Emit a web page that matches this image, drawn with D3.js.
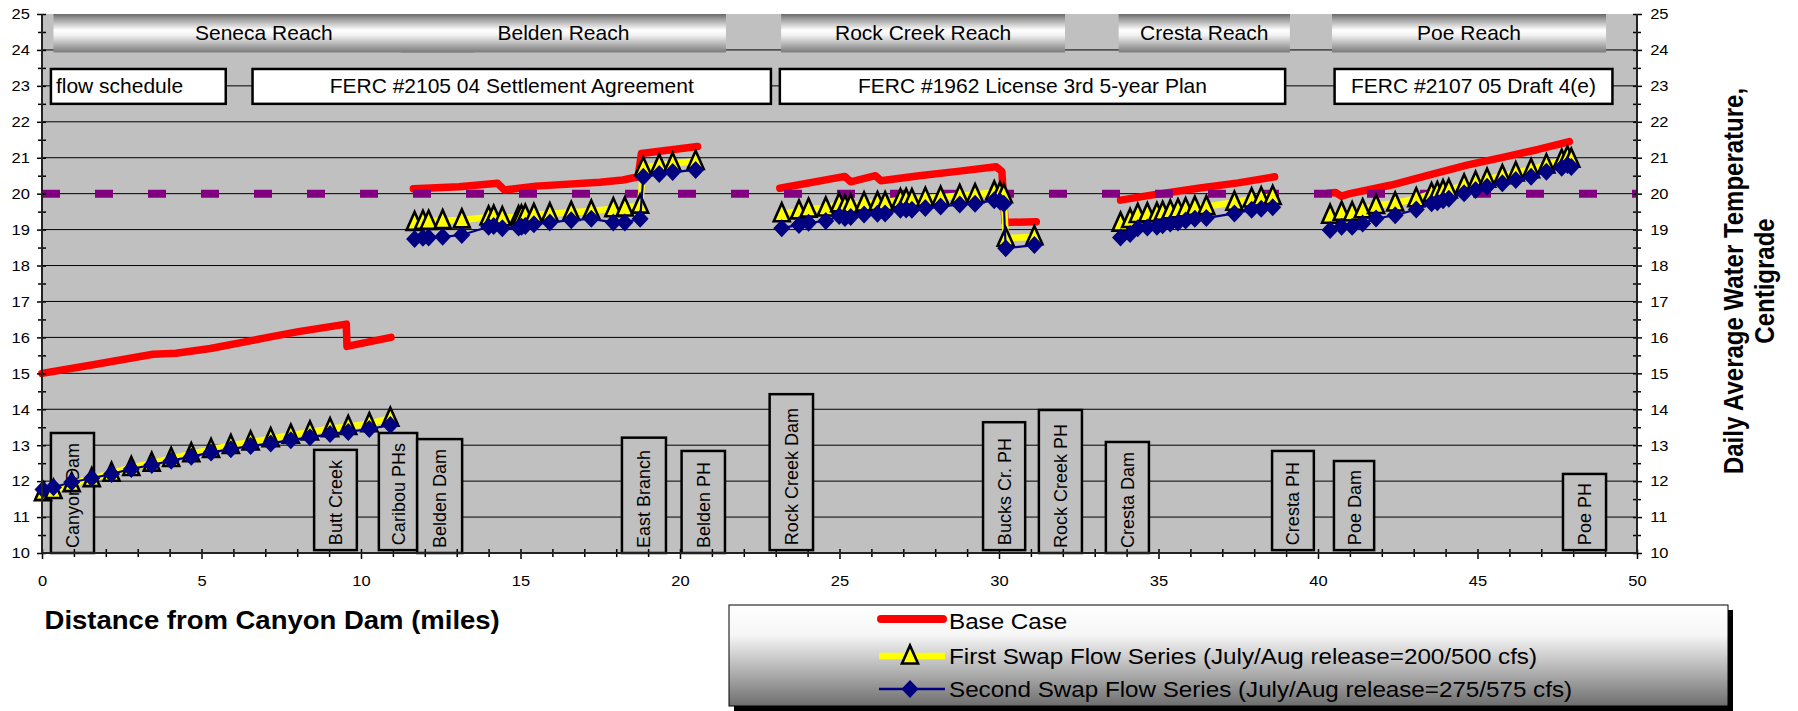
<!DOCTYPE html>
<html><head><meta charset="utf-8">
<script src="https://cdn.jsdelivr.net/npm/d3@7"></script>
<style>
body{margin:0;background:#fff}
svg{display:block}
text{font-family:"Liberation Sans",Arial,sans-serif;fill:#000}
</style>
</head><body>
<svg id="c" width="1798" height="711"></svg>
<script>
// ---------------- DATA ----------------
const xDomain = [0, 50];
const yDomain = [10, 25];
const xTickLabels = [0, 5, 10, 15, 20, 25, 30, 35, 40, 45, 50];
const yTickLabels = [10, 11, 12, 13, 14, 15, 16, 17, 18, 19, 20, 21, 22, 23, 24, 25];
const gridValues = [11, 12, 13, 14, 15, 16, 17, 18, 19, 20, 21, 22, 23, 24];

const seriesNames = ["Base Case",
  "First Swap Flow Series (July/Aug release=200/500 cfs)",
  "Second Swap Flow Series (July/Aug release=275/575 cfs)"];

// [mile, temperature C]; null = gap between reaches
const baseCase = [
  [0,15.0],[1.56,15.23],[3.48,15.53],[4.2,15.56],[5.28,15.69],[7.08,16.0],[8.04,16.16],[9.54,16.37],[9.56,15.75],[10.94,16.0],
  null,
  [11.64,20.14],[13.08,20.19],[14.28,20.29],[14.5,20.1],[15.48,20.21],[17.49,20.32],[18.21,20.38],[18.69,20.47],[18.79,21.12],[20.55,21.31],
  null,
  [23.13,20.15],[25.17,20.48],[25.35,20.33],[26.13,20.5],[26.3,20.36],[27.5,20.5],[28.7,20.62],[29.91,20.75],[30.09,20.62],[30.19,19.2],[31.17,19.22],
  null,
  [33.81,19.82],[34.77,19.96],[36.3,20.16],[37.5,20.3],[38.64,20.47],
  null,
  [40.32,20.01],[40.55,20.03],[40.74,19.93],[41.0,20.0],[42.3,20.24],[43.5,20.52],[44.7,20.8],[45.9,21.03],[46.9,21.23],[47.88,21.45]
];

const firstSwap = [
  [0.03,11.68],[0.36,11.74],[0.93,11.93],[1.56,12.07],[2.18,12.22],[2.8,12.38],[3.44,12.5],[4.05,12.63],[4.68,12.76],[5.3,12.88],
  [5.92,12.99],[6.54,13.09],[7.17,13.18],[7.8,13.28],[8.4,13.37],[9.03,13.46],[9.6,13.52],[10.26,13.6],[10.92,13.75],
  null,
  [11.68,19.2],[11.94,19.23],[12.12,19.23],[12.56,19.25],[13.16,19.27],[14.0,19.35],[14.16,19.37],[14.43,19.33],[14.94,19.36],[15.03,19.38],
  [15.15,19.4],[15.42,19.42],[15.92,19.44],[16.59,19.48],[17.22,19.52],[17.91,19.58],[18.27,19.6],[18.75,19.68],
  [18.85,20.72],[19.35,20.8],[19.77,20.84],[20.49,20.9],
  null,
  [23.19,19.44],[23.73,19.52],[24.03,19.57],[24.57,19.6],[24.99,19.72],[25.17,19.66],[25.35,19.68],[25.77,19.74],[26.19,19.75],[26.43,19.75],
  [26.91,19.83],[27.09,19.84],[27.27,19.83],[27.69,19.87],[28.17,19.9],[28.77,19.95],[29.25,19.97],[29.85,20.05],[30.03,20.02],[30.15,19.97],
  [30.21,18.76],[31.11,18.8],
  null,
  [33.81,19.18],[34.11,19.28],[34.35,19.42],[34.65,19.44],[34.95,19.45],[35.13,19.48],[35.37,19.52],[35.61,19.55],[35.85,19.58],[36.14,19.62],
  [36.5,19.64],[37.38,19.76],[37.92,19.85],[38.22,19.88],[38.58,19.92],
  null,
  [40.38,19.4],[40.74,19.48],[41.07,19.47],[41.4,19.55],[41.82,19.67],[42.42,19.74],[43.08,19.86],[43.56,20.0],[43.74,20.03],[43.92,20.08],
  [44.1,20.1],[44.58,20.24],[44.94,20.32],[45.3,20.4],[45.78,20.5],[46.2,20.58],[46.68,20.67],[47.16,20.8],[47.64,20.93],[47.82,21.02],[47.94,20.96]
];

const secondSwap = [
  [0.03,11.77],[0.36,11.83],[0.93,11.97],[1.56,12.08],[2.18,12.2],[2.8,12.34],[3.44,12.45],[4.05,12.57],[4.68,12.68],[5.3,12.8],
  [5.92,12.89],[6.54,12.98],[7.17,13.05],[7.8,13.14],[8.4,13.22],[9.03,13.31],[9.6,13.37],[10.26,13.45],[10.92,13.56],
  null,
  [11.68,18.74],[11.94,18.77],[12.12,18.78],[12.56,18.8],[13.16,18.85],[14.0,19.08],[14.16,19.1],[14.43,19.04],[14.94,19.06],[15.03,19.08],
  [15.15,19.1],[15.42,19.15],[15.92,19.2],[16.59,19.26],[17.22,19.3],[17.91,19.2],[18.27,19.2],[18.75,19.3],
  [18.85,20.47],[19.35,20.55],[19.77,20.6],[20.49,20.66],
  null,
  [23.19,19.04],[23.73,19.13],[24.03,19.19],[24.57,19.24],[24.99,19.38],[25.17,19.32],[25.35,19.35],[25.77,19.42],[26.19,19.44],[26.43,19.45],
  [26.91,19.55],[27.09,19.56],[27.27,19.55],[27.69,19.6],[28.17,19.64],[28.77,19.7],[29.25,19.72],[29.85,19.82],[30.03,19.78],[30.15,19.72],
  [30.21,18.48],[31.11,18.57],
  null,
  [33.81,18.78],[34.11,18.88],[34.35,19.04],[34.65,19.06],[34.95,19.08],[35.13,19.12],[35.37,19.17],[35.61,19.2],[35.85,19.25],[36.14,19.3],
  [36.5,19.32],[37.38,19.45],[37.92,19.55],[38.22,19.58],[38.58,19.62],
  null,
  [40.38,18.99],[40.74,19.08],[41.07,19.08],[41.4,19.17],[41.82,19.31],[42.42,19.4],[43.08,19.56],[43.56,19.73],[43.74,19.76],[43.92,19.82],
  [44.1,19.86],[44.58,20.01],[44.94,20.1],[45.3,20.19],[45.78,20.29],[46.2,20.38],[46.68,20.47],[47.16,20.61],[47.64,20.72],[47.82,20.8],[47.94,20.74]
];

const threshold = [[0,20],[50,20]];

// annotation boxes in data units (miles / degrees)
const reachNames = ["Seneca Reach","Belden Reach","Rock Creek Reach","Cresta Reach","Poe Reach"];
const reachFrom  = [0.36, 11.25, 23.17, 33.75, 40.44];
const reachTo    = [13.55, 21.44, 32.07, 39.12, 49.03];
const reachTemp  = [25, 23.93];

const flowNames = ["flow schedule","FERC #2105 04 Settlement Agreement","FERC #1962 License 3rd 5-year Plan","FERC #2107 05 Draft 4(e)"];
const flowFrom  = [0.28, 6.6, 23.13, 40.52];
const flowTo    = [5.76, 22.85, 38.97, 49.23];
const flowTemp  = [23.47, 22.5];

const siteNames  = ["Canyon Dam","Butt Creek","Caribou PHs","Belden Dam","East Branch","Belden PH","Rock Creek Dam",
                    "Bucks Cr. PH","Rock Creek PH","Cresta Dam","Cresta PH","Poe Dam","Poe PH"];
const siteFrom   = [0.28, 8.53, 10.56, 11.76, 18.18, 20.05, 22.81, 29.5, 31.25, 33.35, 38.56, 40.5, 47.68];
const siteTo     = [1.63, 9.87, 11.76, 13.17, 19.56, 21.41, 24.17, 30.82, 32.6, 34.7, 39.87, 41.76, 49.03];
const siteTop    = [13.34, 12.87, 13.34, 13.17, 13.21, 12.84, 14.42, 13.64, 13.98, 13.09, 12.84, 12.56, 12.2];
const siteBottom = [10, 10.08, 10.08, 10, 10, 10, 10.08, 10.08, 10, 10, 10.08, 10.08, 10.08];

const xTitle = "Distance from Canyon Dam (miles)";
const yTitle = ["Daily Average Water Temperature,", "Centigrade"];

// ---------------- DRAW ----------------
const FONT = '"Liberation Sans", Arial, sans-serif';
const svg = d3.select("#c");
const x = d3.scaleLinear().domain(xDomain).range([42, 1637]);
const y = d3.scaleLinear().domain(yDomain).range([553, 14]);

const defs = svg.append("defs");
const hg = defs.append("linearGradient").attr("id","hdr").attr("x1",0).attr("y1",0).attr("x2",0).attr("y2",1);
[[0,"#6a6a6a"],[0.12,"#999999"],[0.42,"#ffffff"],[0.55,"#f2f2f2"],[1,"#7a7a7a"]]
  .forEach(([o,c]) => hg.append("stop").attr("offset",o).attr("stop-color",c));
const lgr = defs.append("linearGradient").attr("id","leg").attr("x1",0).attr("y1",0).attr("x2",0).attr("y2",1);
[[0,"#ffffff"],[0.3,"#f6f6f6"],[1,"#6e6e6e"]]
  .forEach(([o,c]) => lgr.append("stop").attr("offset",o).attr("stop-color",c));

function label(g, px, py, str, o) {
  o = o || {};
  return g.append("text")
    .attr("transform", `translate(${px},${py}) scale(${o.sx||1},1) rotate(${o.rot||0})`)
    .attr("text-anchor", o.anchor || "start")
    .attr("font-size", o.size || 15)
    .attr("font-weight", o.weight || "normal")
    .attr("font-family", FONT)
    .text(str);
}

// plot background
svg.append("rect").attr("x", x(0)).attr("y", y(25)).attr("width", x(50)-x(0)).attr("height", y(10)-y(25)).attr("fill","#c0c0c0");

// gridlines
svg.append("g").selectAll("line").data(gridValues).join("line")
  .attr("x1", x(0)).attr("x2", x(50)).attr("y1", d=>y(d)).attr("y2", d=>y(d))
  .attr("stroke","#000").attr("stroke-width",1);

// reach headers
const gh = svg.append("g");
reachNames.forEach((n,i) => {
  gh.append("rect").attr("x", x(reachFrom[i])).attr("y", y(reachTemp[0]))
    .attr("width", x(reachTo[i])-x(reachFrom[i])).attr("height", y(reachTemp[1])-y(reachTemp[0]))
    .attr("fill","url(#hdr)");
});
reachNames.forEach((n,i) => {
  const cx = (x(reachFrom[i]) + x(reachTo[i]))/2;
  const cy = (y(reachTemp[0]) + y(reachTemp[1]))/2;
  label(gh, cx, cy+7, n, {anchor:"middle", size:20, sx:1.05});
});

// flow schedule boxes
const gf = svg.append("g");
flowNames.forEach((n,i) => {
  gf.append("rect").attr("x", x(flowFrom[i])).attr("y", y(flowTemp[0]))
    .attr("width", x(flowTo[i])-x(flowFrom[i])).attr("height", y(flowTemp[1])-y(flowTemp[0]))
    .attr("fill","#fff").attr("stroke","#000").attr("stroke-width",2.5);
  const cy = (y(flowTemp[0]) + y(flowTemp[1]))/2 + 7;
  if (i === 0) label(gf, x(flowFrom[i])+5, cy, n, {size:20, sx:1.05});
  else label(gf, (x(flowFrom[i])+x(flowTo[i]))/2, cy, n, {anchor:"middle", size:20, sx:1.05});
});

// site boxes
const gs = svg.append("g");
siteNames.forEach((n,i) => {
  gs.append("rect").attr("x", x(siteFrom[i])).attr("y", y(siteTop[i]))
    .attr("width", x(siteTo[i])-x(siteFrom[i])).attr("height", y(siteBottom[i])-y(siteTop[i]))
    .attr("fill","#c0c0c0").attr("stroke","#000").attr("stroke-width",2.5);
  const cx = (x(siteFrom[i])+x(siteTo[i]))/2;
  label(gs, cx+6.5, y(siteBottom[i])-5, n, {size:18, rot:-90, sx:1.0});
});

// series
const line = d3.line().defined(d => d).x(d => x(d[0])).y(d => y(d[1]));
svg.append("path").datum(baseCase).attr("d", line).attr("fill","none")
  .attr("stroke","#ff0000").attr("stroke-width",7.5).attr("stroke-linejoin","round").attr("stroke-linecap","round");
svg.append("path").datum(threshold).attr("d", line).attr("fill","none")
  .attr("stroke","#800080").attr("stroke-width",8).attr("stroke-dasharray","18,35");
svg.append("path").datum(firstSwap).attr("d", line).attr("fill","none")
  .attr("stroke","#ffff00").attr("stroke-width",6.5).attr("stroke-linejoin","round");
const triPath = "M0,-10.5L8,7.5L-8,7.5Z";
const diaPath = "M0,-9L8.5,0L0,9L-8.5,0Z";
svg.append("g").selectAll("path").data(firstSwap.filter(d=>d)).join("path")
  .attr("d", triPath).attr("transform", d=>`translate(${x(d[0])},${y(d[1])})`)
  .attr("fill","#ffff00").attr("stroke","#000").attr("stroke-width",2.6);
svg.append("path").datum(secondSwap).attr("d", line).attr("fill","none")
  .attr("stroke","#000080").attr("stroke-width",2.2);
svg.append("g").selectAll("path").data(secondSwap.filter(d=>d)).join("path")
  .attr("d", diaPath).attr("transform", d=>`translate(${x(d[0])},${y(d[1])})`)
  .attr("fill","#000080");

// axes
function styleAxis(g) {
  g.attr("font-family", FONT).attr("font-size", 15);
  g.select(".domain").remove();
  g.selectAll(".tick line").attr("stroke","#000").attr("stroke-width",1.5);
  g.selectAll(".tick text").attr("fill","#000").attr("transform","scale(1.1,1)");
}
const minorY = d3.range(10.5, 25, 1);
const minorX = d3.range(0, 51, 1).filter(v => v % 5 !== 0);

const gL = svg.append("g").attr("transform",`translate(${x(0)},0)`)
  .call(d3.axisLeft(y).tickValues(yTickLabels).tickSize(5).tickPadding(6).tickFormat(d3.format("d")));
styleAxis(gL); gL.selectAll(".tick line").attr("x1",4);
svg.append("g").attr("transform",`translate(${x(0)},0)`).call(d3.axisLeft(y).tickValues(minorY).tickSize(4).tickFormat(""))
  .call(g=>{g.select(".domain").remove(); g.selectAll(".tick line").attr("x1",4).attr("stroke","#000").attr("stroke-width",1.5);});

const gR = svg.append("g").attr("transform",`translate(${x(50)},0)`)
  .call(d3.axisRight(y).tickValues(yTickLabels).tickSize(5).tickPadding(7).tickFormat(d3.format("d")));
styleAxis(gR); gR.selectAll(".tick line").attr("x1",-4);
svg.append("g").attr("transform",`translate(${x(50)},0)`).call(d3.axisRight(y).tickValues(minorY).tickSize(4).tickFormat(""))
  .call(g=>{g.select(".domain").remove(); g.selectAll(".tick line").attr("x1",-4).attr("stroke","#000").attr("stroke-width",1.5);});

const gB = svg.append("g").attr("transform",`translate(0,${y(10)})`)
  .call(d3.axisBottom(x).tickValues(xTickLabels).tickSize(6).tickPadding(16).tickFormat(d3.format("d")));
styleAxis(gB); gB.selectAll(".tick line").attr("y1",-4);
svg.append("g").attr("transform",`translate(0,${y(10)})`).call(d3.axisBottom(x).tickValues(minorX).tickSize(4).tickFormat(""))
  .call(g=>{g.select(".domain").remove(); g.selectAll(".tick line").attr("y1",-4).attr("stroke","#000").attr("stroke-width",1.5);});

// axis lines
svg.append("line").attr("x1",x(0)).attr("x2",x(0)).attr("y1",y(25)).attr("y2",y(10)).attr("stroke","#222").attr("stroke-width",2);
svg.append("line").attr("x1",x(50)).attr("x2",x(50)).attr("y1",y(25)).attr("y2",y(10)).attr("stroke","#222").attr("stroke-width",2);
svg.append("line").attr("x1",x(0)).attr("x2",x(50)).attr("y1",y(10)).attr("y2",y(10)).attr("stroke","#222").attr("stroke-width",2);

// titles
const gt = svg.append("g");
label(gt, 44.6, 629, xTitle, {size:25, weight:"bold", sx:1.1});
label(gt, 1743, 281, yTitle[0], {size:24, weight:"bold", sx:1.12, rot:-90, anchor:"middle"});
label(gt, 1774, 281, yTitle[1], {size:24, weight:"bold", sx:1.12, rot:-90, anchor:"middle"});

// legend
const lg = svg.append("g");
lg.append("rect").attr("x",734).attr("y",610).attr("width",999).attr("height",101).attr("fill","#000");
lg.append("rect").attr("x",729).attr("y",605).attr("width",999).attr("height",101).attr("fill","url(#leg)").attr("stroke","#000").attr("stroke-width",1);
const rowsY = [621, 656, 689];
lg.append("line").attr("x1",881).attr("x2",943).attr("y1",rowsY[0]-2).attr("y2",rowsY[0]-2)
  .attr("stroke","#ff0000").attr("stroke-width",8).attr("stroke-linecap","round");
lg.append("line").attr("x1",879).attr("x2",945).attr("y1",rowsY[1]).attr("y2",rowsY[1])
  .attr("stroke","#ffff00").attr("stroke-width",6.5);
lg.append("path").attr("d",triPath).attr("transform",`translate(910,${rowsY[1]})`)
  .attr("fill","#ffff00").attr("stroke","#000").attr("stroke-width",2.6);
lg.append("line").attr("x1",879).attr("x2",945).attr("y1",rowsY[2]).attr("y2",rowsY[2])
  .attr("stroke","#000080").attr("stroke-width",2.5);
lg.append("path").attr("d",diaPath).attr("transform",`translate(910,${rowsY[2]})`).attr("fill","#000080");
seriesNames.forEach((n,i) => label(lg, 949, rowsY[i]+8, n, {size:22, sx:1.1}));
</script>
</body></html>
